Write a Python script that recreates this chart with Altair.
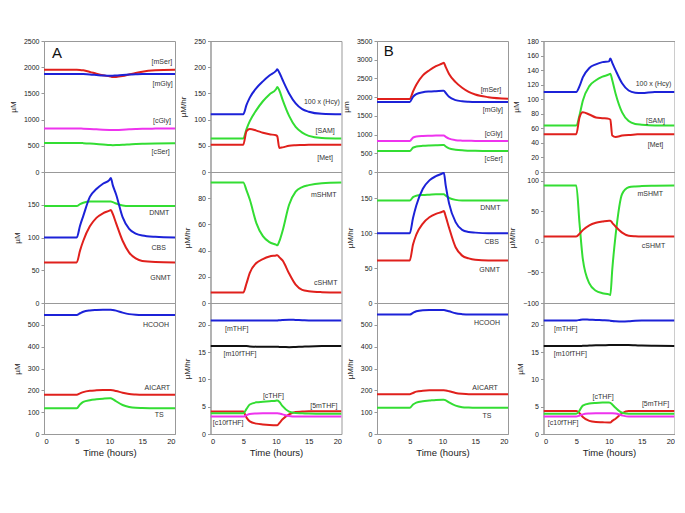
import altair as alt
import pandas as pd

T = [0, 5, 5.5, 6, 7, 8, 9, 10, 10.2, 10.5, 11, 12, 13, 14, 15, 17, 20]

# ---- Panel A, row 1 (uM)
mSer_A = [1950, 1950, 1948, 1940, 1910, 1875, 1845, 1825, 1820, 1815, 1815, 1830, 1860, 1890, 1915, 1940, 1950]
mGly_A = [1870, 1870, 1870, 1868, 1862, 1852, 1842, 1835, 1835, 1838, 1842, 1852, 1860, 1865, 1868, 1870, 1870]
cGly_A = [830, 830, 829, 827, 822, 815, 808, 803, 802, 802, 803, 808, 815, 821, 825, 828, 830]
cSer_A = [555, 555, 554, 551, 543, 533, 523, 515, 513, 512, 513, 518, 526, 534, 540, 545, 547]
# ---- Panel A, row 1 col 2
Hcy_A = [110, 110, 128, 142, 160, 173, 184, 193, 196, 190, 176, 150, 131, 120, 115, 111, 110]
SAM_A = [64, 64, 82, 97, 118, 135, 148, 158, 162, 156, 138, 107, 86, 75, 69, 65, 64]
Met_A = [52, 52, 78, 82, 79, 75, 72, 70, 68, 46, 47, 50, 51, 51.5, 52, 52, 52]
# ---- Panel B, row 1
mSer_B = [1950, 1950, 2150, 2330, 2580, 2720, 2830, 2900, 2920, 2800, 2620, 2400, 2250, 2140, 2070, 2000, 1960]
mGly_B = [1870, 1870, 2010, 2080, 2130, 2150, 2160, 2168, 2170, 2110, 2010, 1920, 1890, 1878, 1872, 1870, 1870]
cGly_B = [830, 830, 920, 950, 965, 970, 973, 975, 975, 940, 890, 850, 838, 833, 831, 830, 830]
cSer_B = [560, 560, 650, 680, 700, 710, 716, 720, 720, 680, 630, 595, 578, 570, 565, 562, 560]
Hcy_B = [110, 110, 118, 130, 143, 148, 151, 152, 156, 150, 140, 122, 112, 109, 108.5, 110, 110]
SAM_B = [64, 64, 78, 98, 118, 126, 131, 134, 135, 126, 108, 82, 70, 66, 65, 64, 64]
Met_B = [52, 52, 75, 82, 79, 75, 74, 73, 72, 50, 48, 50, 51, 51.5, 52, 52, 52]
# ---- row 2
DNMT_A = [148, 148, 151, 153, 155, 155, 155, 155, 155, 154, 152, 149, 148, 148, 148, 148, 148]
CBS_A = [100, 100, 118, 133, 162, 174, 182, 188, 191, 180, 166, 131, 113, 106, 103, 101, 100]
GNMT_A = [62, 62, 80, 95, 117, 130, 137, 141, 142, 136, 122, 95, 77, 68, 64, 62.5, 62]
mSHMT_A = [92, 92, 86, 79, 61, 51, 46.5, 44.5, 44, 47, 55, 75, 85, 88.5, 90, 91.5, 92]
cSHMT_A = [8, 8, 15, 23, 30.5, 33.5, 35.5, 36.3, 36.5, 35, 32.5, 22.5, 14, 10, 9, 8.3, 8]
DNMT_B = [147, 147, 152, 154, 155, 155.5, 156, 156, 156, 154, 151, 148, 147, 147, 147, 147, 147]
CBS_B = [100, 100, 122, 140, 164, 176, 182, 186, 187, 168, 143, 116, 105, 102, 101, 100, 100]
GNMT_B = [61, 61, 84, 98, 114, 123, 128, 131, 132, 124, 108, 80, 68, 64, 62, 61, 61]
mSHMT_B = [92, 92, 30, -28, -68, -80, -84, -86, -87, -45, 10, 78, 89, 90.5, 91, 91.5, 92]
cSHMT_B = [8.5, 8.5, 13, 19, 27, 31, 33, 34.5, 34.5, 31, 25, 15, 10, 9, 8.6, 8.5, 8.5]
# ---- row 3
HCOOH_A = [545, 545, 553, 560, 566, 568, 569, 569, 569, 568, 565, 556, 549, 546, 545, 545, 545]
AICART_A = [180, 180, 186, 192, 198, 200, 201, 201, 201, 200, 197, 189, 183, 181, 180, 180, 180]
TS_A = [118, 118, 135, 147, 155, 159, 162, 164, 164, 160, 150, 133, 124, 120, 119, 118, 118]
mTHF_A = [20.8, 20.8, 20.8, 20.8, 20.8, 20.8, 20.8, 20.8, 20.8, 20.85, 20.9, 20.95, 20.9, 20.85, 20.8, 20.8, 20.8]
m10fTHF_A = [16.1, 16.1, 16.1, 16.05, 16.0, 16.0, 16.0, 16.0, 16.0, 15.95, 15.95, 15.9, 15.95, 16.0, 16.05, 16.1, 16.1]
cTHF_A = [3.8, 3.8, 4.6, 5.4, 5.8, 5.9, 6.0, 6.1, 6.15, 5.9, 5.1, 4.1, 3.85, 3.8, 3.75, 3.7, 3.7]
mTHF5_A = [4.1, 4.1, 3.0, 2.3, 1.9, 1.75, 1.65, 1.6, 1.6, 2.0, 2.7, 3.6, 4.05, 4.1, 4.15, 4.15, 4.15]
c10fTHF_A = [3.2, 3.2, 3.45, 3.65, 3.75, 3.8, 3.8, 3.8, 3.8, 3.75, 3.6, 3.3, 3.2, 3.2, 3.2, 3.2, 3.2]
HCOOH_B = [547, 547, 555, 562, 567, 568, 568, 568, 568, 566, 562, 553, 549, 547, 547, 547, 547]
AICART_B = [182, 182, 188, 194, 198, 200, 200, 200, 200, 199, 196, 188, 184, 182, 182, 182, 182]
TS_B = [120, 120, 135, 144, 150, 153, 156, 157, 157, 154, 145, 130, 123, 121, 120, 120, 120]
mTHF_B = [20.8, 20.8, 20.9, 21.0, 20.95, 20.9, 20.85, 20.8, 20.75, 20.7, 20.65, 20.6, 20.65, 20.75, 20.8, 20.8, 20.8]
m10fTHF_B = [16.1, 16.1, 16.1, 16.15, 16.2, 16.25, 16.25, 16.3, 16.3, 16.3, 16.3, 16.3, 16.3, 16.25, 16.2, 16.15, 16.1]
cTHF_B = [3.7, 3.7, 4.3, 5.2, 5.6, 5.7, 5.75, 5.75, 5.7, 5.4, 4.8, 3.9, 3.7, 3.7, 3.7, 3.7, 3.7]
mTHF5_B = [4.2, 4.2, 3.8, 3.1, 2.4, 2.2, 2.15, 2.1, 2.1, 2.4, 2.8, 3.8, 4.2, 4.2, 4.2, 4.2, 4.2]
c10fTHF_B = [3.2, 3.2, 3.4, 3.6, 3.75, 3.8, 3.8, 3.8, 3.8, 3.8, 3.75, 3.4, 3.2, 3.2, 3.2, 3.2, 3.2]

RED, BLUE, GREEN, MAG, BLK = "#e0201c", "#1c22d8", "#33dd33", "#ee33ee", "#111111"
FONT = "Liberation Sans"
W, H = 131, 131


def panel(series, labels, domain, yvals, ytitle, bottom=False, letter=None):
    if bottom:
        xax = alt.Axis(values=[0, 5, 10, 15, 20], title="Time (hours)", labelFontSize=7.5,
                       titleFontSize=9.5, titlePadding=3, grid=False, ticks=False, labelPadding=3,
                       format="d", labelOverlap=False)
    else:
        xax = alt.Axis(values=[0, 5, 10, 15, 20], labels=False, ticks=False, title=None,
                       grid=False, domain=False)
    yax = alt.Axis(values=yvals, title=ytitle, grid=False, tickSize=3, titlePadding=6,
                   labelFlush=False, labelOverlap=False, format="d")
    xs = alt.Scale(domain=[0, 20], nice=False)
    ys = alt.Scale(domain=domain, nice=False, zero=False)
    X = alt.X("t:Q", scale=xs, axis=xax)
    Y = alt.Y("v:Q", scale=ys, axis=yax)
    layers = []
    for vals, col in series:
        df = pd.DataFrame({"t": T, "v": vals})
        layers.append(
            alt.Chart(df).mark_line(color=col, strokeWidth=2, interpolate="monotone", clip=True)
            .encode(x=X, y=Y)
        )
    ldf = pd.DataFrame(labels, columns=["t", "v", "txt"])
    layers.append(
        alt.Chart(ldf).mark_text(fontSize=7, font=FONT, color="#333333")
        .encode(x=X, y=Y, text="txt:N")
    )
    if letter:
        lt = pd.DataFrame([letter], columns=["t", "v", "txt"])
        layers.append(
            alt.Chart(lt).mark_text(fontSize=15, font=FONT, color="#111111")
            .encode(x=X, y=Y, text="txt:N")
        )
    return alt.layer(*layers).properties(width=W, height=H)


p11 = panel([(mSer_A, RED), (mGly_A, BLUE), (cGly_A, MAG), (cSer_A, GREEN)],
            [(18.0, 2104, "[mSer]"), (18.1, 1684, "[mGly]"), (18.0, 982, "[cGly]"), (17.8, 383, "[cSer]")],
            [0, 2500], [0, 500, 1000, 1500, 2000, 2500], "µM", letter=(2.0, 2277, "A"))
p21 = panel([(DNMT_A, GREEN), (CBS_A, BLUE), (GNMT_A, RED)],
            [(17.6, 137.8, "DNMT"), (17.5, 84.4, "CBS"), (17.8, 38.7, "GNMT")],
            [0, 200], [0, 50, 100, 150], "µM")
p31 = panel([(HCOOH_A, BLUE), (AICART_A, RED), (TS_A, GREEN)],
            [(17.1, 498, "HCOOH"), (17.3, 212, "AICART"), (17.6, 85, "TS")],
            [0, 600], [0, 100, 200, 300, 400, 500], "µM", bottom=True)

p12 = panel([(Hcy_A, BLUE), (SAM_A, GREEN), (Met_A, RED)],
            [(17.0, 133, "100 x (Hcy)"), (17.5, 79, "[SAM]"), (17.5, 26.6, "[Met]")],
            [0, 250], [0, 50, 100, 150, 200, 250], "µM/hr")
p22 = panel([(mSHMT_A, GREEN), (cSHMT_A, RED)],
            [(17.3, 82.3, "mSHMT"), (17.6, 15, "cSHMT")],
            [0, 100], [0, 20, 40, 60, 80], "µM/hr")
p32 = panel([(mTHF_A, BLUE), (m10fTHF_A, BLK), (mTHF5_A, RED), (cTHF_A, GREEN), (c10fTHF_A, MAG)],
            [(4.0, 19.3, "[mTHF]"), (4.5, 14.6, "[m10fTHF]"), (9.6, 7.0, "[cTHF]"),
             (17.3, 5.2, "[5mTHF]"), (2.7, 2.0, "[c10fTHF]")],
            [0, 24], [0, 5, 10, 15, 20], "µM/hr", bottom=True)

p13 = panel([(mSer_B, RED), (mGly_B, BLUE), (cGly_B, MAG), (cSer_B, GREEN)],
            [(17.4, 2199, "[mSer]"), (17.7, 1667, "[mGly]"), (17.8, 1002, "[cGly]"), (17.8, 346, "[cSer]")],
            [0, 3500], [0, 500, 1000, 1500, 2000, 2500, 3000, 3500], "µm", letter=(1.8, 3236, "B"))
p23 = panel([(DNMT_B, GREEN), (CBS_B, BLUE), (GNMT_B, RED)],
            [(17.3, 136, "DNMT"), (17.5, 87, "CBS"), (17.2, 48, "GNMT")],
            [0, 188], [0, 50, 100, 150], "µM/hr")
p33 = panel([(HCOOH_B, BLUE), (AICART_B, RED), (TS_B, GREEN)],
            [(16.8, 509, "HCOOH"), (16.5, 212, "AICART"), (16.8, 83, "TS")],
            [0, 600], [0, 100, 200, 300, 400, 500], "µM/hr", bottom=True)

p14 = panel([(Hcy_B, BLUE), (SAM_B, GREEN), (Met_B, RED)],
            [(16.8, 120.6, "100 x (Hcy)"), (17.1, 70.6, "[SAM]"), (17.1, 37.6, "[Met]")],
            [0, 180], [0, 20, 40, 60, 80, 100, 120, 140, 160, 180], "µM")
p24 = panel([(mSHMT_B, GREEN), (cSHMT_B, RED)],
            [(16.3, 78, "mSHMT"), (16.8, -7.7, "cSHMT")],
            [-100, 114], [-100, -50, 0, 50, 100], "µM/hr")
p34 = panel([(mTHF_B, BLUE), (m10fTHF_B, BLK), (mTHF5_B, RED), (cTHF_B, GREEN), (c10fTHF_B, MAG)],
            [(3.4, 19.2, "[mTHF]"), (4.1, 14.7, "[m10fTHF]"), (9.1, 6.7, "[cTHF]"),
             (17.1, 5.5, "[5mTHF]"), (3.0, 2.1, "[c10fTHF]")],
            [0, 24], [0, 5, 10, 15, 20], "µM", bottom=True)

chart = alt.concat(
    p11, p12, p13, p14,
    p21, p22, p23, p24,
    p31, p32, p33, p34,
    columns=4, spacing={"row": 0, "column": 35.5}, bounds="flush",
).properties(
    padding={"left": 0, "top": 28, "right": 0, "bottom": 5}
).configure_view(stroke="#999999", strokeWidth=1).configure_axis(
    labelFont=FONT, titleFont=FONT, labelFontSize=7, titleFontSize=8, titleFontWeight="normal",
    labelColor="#222222", titleColor="#222222", domainColor="#999999", tickColor="#999999"
)

chart.save("out.html", embed_options={"renderer": "svg", "actions": False})
